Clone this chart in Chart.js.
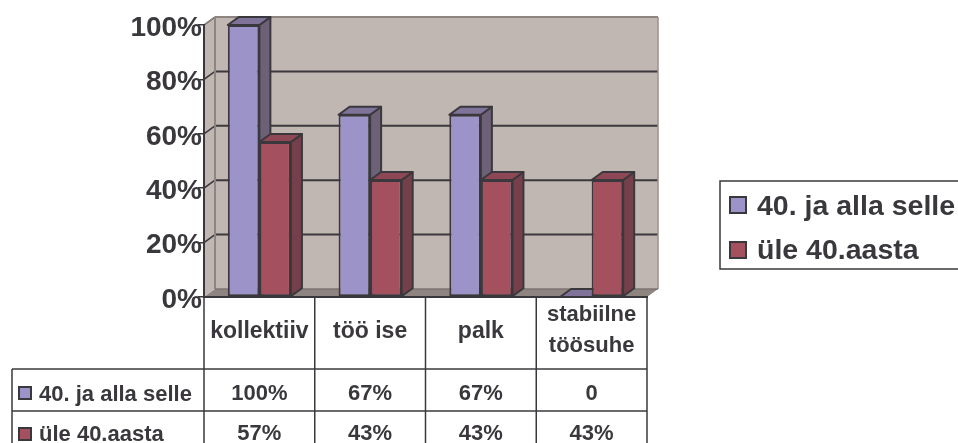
<!DOCTYPE html>
<html>
<head>
<meta charset="utf-8">
<style>
  html, body { margin: 0; padding: 0; background: #fff; overflow: hidden; }
  #wrap { position: relative; width: 958px; height: 443px; }
</style>
<script src="https://cdn.jsdelivr.net/npm/chart.js@4"></script>
</head>
<body>
<div id="wrap"><canvas id="chart"></canvas></div>
<script>
// Kategooriad ja seeriad
const categories = [['kollektiiv'], ['töö ise'], ['palk'], ['stabiilne', 'töösuhe']];
const seriesNames = ['40. ja alla selle', 'üle 40.aasta'];
const alla40 = [100, 67, 67, 0];
const yle40 = [57, 43, 43, 43];
const yTicks = [0, 20, 40, 60, 80, 100];

const INK = '#3a383c';
const FONT = 'Liberation Sans, Arial, sans-serif';
const colors = [
    { front: '#9c94c8', top: '#7f7399', side: '#6c6177' },
    { front: '#a5505f', top: '#8e4855', side: '#75404b' }
];
// Kolmemõõtmelise sügavuse nihe
const DX = 11, DY = 8;

function poly(ctx, pts, fill, stroke, lw) {
    ctx.beginPath();
    pts.forEach((p, i) => i ? ctx.lineTo(p[0], p[1]) : ctx.moveTo(p[0], p[1]));
    ctx.closePath();
    if (fill) { ctx.fillStyle = fill; ctx.fill(); }
    if (stroke) { ctx.strokeStyle = stroke; ctx.lineWidth = lw; ctx.stroke(); }
}

function line(ctx, x1, y1, x2, y2, color, lw) {
    ctx.beginPath();
    ctx.moveTo(x1, y1);
    ctx.lineTo(x2, y2);
    ctx.strokeStyle = color;
    ctx.lineWidth = lw;
    ctx.stroke();
}

function label(ctx, text, x, y, size, align) {
    ctx.font = 'bold ' + size + 'px ' + FONT;
    ctx.fillStyle = INK;
    ctx.textAlign = align || 'center';
    ctx.textBaseline = 'alphabetic';
    ctx.fillText(text, x, y);
}

function swatch(ctx, x, y, w, h, color) {
    ctx.fillStyle = color;
    ctx.fillRect(x, y, w, h);
    ctx.strokeStyle = INK;
    ctx.lineWidth = 2;
    ctx.strokeRect(x, y, w, h);
}

// Tagasein, külgsein, põrand ja abijooned
const wallsPlugin = {
    id: 'walls',
    beforeDraw(chart) {
        const { ctx, chartArea: a, scales } = chart;
        const y0 = scales.y.getPixelForValue(0);
        const y100 = scales.y.getPixelForValue(100);
        ctx.save();
        poly(ctx, [[a.left + DX, y100 - DY], [a.right + DX, y100 - DY], [a.right + DX, y0 - DY], [a.left + DX, y0 - DY]], '#c0b7b3');
        poly(ctx, [[a.left, y100], [a.left + DX, y100 - DY], [a.left + DX, y0 - DY], [a.left, y0]], '#c0b7b3');
        yTicks.forEach(v => {
            if (v === 0) return;
            const y = scales.y.getPixelForValue(v);
            if (v < 100) line(ctx, a.left + DX, y - DY, a.right + DX, y - DY, INK, 2);
            line(ctx, a.left, y, a.left + DX, y - DY, INK, 1.5);
        });
        poly(ctx, [[a.left, y0], [a.left + DX, y0 - DY], [a.right + DX, y0 - DY], [a.right, y0]], '#8e8480');
        line(ctx, a.left + DX, y100 - DY, a.right + DX, y100 - DY, '#8e8480', 2);
        line(ctx, a.left + DX, y100 - DY, a.left + DX, y0 - DY, '#8e8480', 2);
        line(ctx, a.right + DX, y100 - DY, a.right + DX, y0 - DY, '#9a908c', 1.5);
        line(ctx, a.left + DX, y0 - DY, a.right + DX, y0 - DY, '#7d7470', 1.5);
        line(ctx, a.left, y100, a.left + DX, y100 - DY, '#8e8480', 1.5);
        ctx.restore();
    }
};

// Tulpade ülemine ja külgmine tahk
const barDepthPlugin = {
    id: 'barDepth',
    beforeDatasetsDraw(chart) {
        const { ctx } = chart;
        ctx.save();
        ctx.lineJoin = 'round';
        chart.data.datasets.forEach((ds, d) => {
            chart.getDatasetMeta(d).data.forEach(bar => {
                const l = bar.x - bar.width / 2, r = bar.x + bar.width / 2;
                const t = bar.y, b = bar.base;
                poly(ctx, [[r, t], [r + DX, t - DY], [r + DX, b - DY], [r, b]], colors[d].side, INK, 2);
                poly(ctx, [[l, t], [l + DX, t - DY], [r + DX, t - DY], [r, t]], colors[d].top, INK, 2);
            });
        });
        ctx.restore();
    }
};

// Andmetabel telje all ja legend paremal
const tablePlugin = {
    id: 'dataTable',
    afterDraw(chart) {
        const { ctx, chartArea: a, scales } = chart;
        const tops = [a.bottom, 369, 411, 443];
        const step = (a.right - a.left) / categories.length;
        ctx.save();
        for (let i = 0; i <= categories.length; i++) {
            line(ctx, a.left + i * step, tops[0], a.left + i * step, tops[3], INK, 1.5);
        }
        line(ctx, 12, tops[1], a.right, tops[1], INK, 1.5);
        line(ctx, 12, tops[2], a.right, tops[2], INK, 1.5);
        line(ctx, 12, tops[1], 12, tops[3], INK, 1.5);

        categories.forEach((c, i) => {
            const cx = scales.x.getPixelForValue(i);
            if (c.length === 1) label(ctx, c[0], cx, 338, 23);
            else c.forEach((t, k) => label(ctx, t, cx, 321 + k * 31, 22));
        });
        chart.data.datasets.forEach((ds, d) => {
            const base = d === 0 ? 401 : 441;
            swatch(ctx, 19, d === 0 ? 387 : 428, 12, 12, colors[d].front);
            label(ctx, seriesNames[d], 39, base, 22, 'left');
            ds.data.forEach((v, i) => {
                label(ctx, v === 0 ? '0' : v + '%', scales.x.getPixelForValue(i), base - 1, 22);
            });
        });

        // Legend; parem serv jääb lõuendist välja
        ctx.strokeStyle = INK;
        ctx.lineWidth = 1.5;
        ctx.strokeRect(720, 181, 260, 88);
        seriesNames.forEach((name, d) => {
            swatch(ctx, 730, d === 0 ? 197 : 242, 16, 16, colors[d].front);
            label(ctx, name, 757, d === 0 ? 215 : 259, 28.5, 'left');
        });
        ctx.restore();
    }
};

document.addEventListener('DOMContentLoaded', () => {
    const ctx = document.getElementById('chart').getContext('2d');
    new Chart(ctx, {
        type: 'bar',
        data: {
            labels: categories,
            datasets: [alla40, yle40].map((values, d) => ({
                label: seriesNames[d],
                data: values,
                backgroundColor: colors[d].front,
                borderColor: INK,
                borderWidth: 2,
                borderSkipped: false
            }))
        },
        options: {
            responsive: true,
            maintainAspectRatio: false,
            animation: false,
            categoryPercentage: 0.57,
            barPercentage: 1,
            layout: { padding: { top: 25, right: 311, left: 0, bottom: 0 } },
            plugins: { legend: { display: false }, tooltip: { enabled: false } },
            scales: {
                x: {
                    ticks: { display: false },
                    grid: { display: false },
                    border: { color: INK, width: 2 },
                    afterFit(scale) { scale.height = 146; }
                },
                y: {
                    min: 0,
                    max: 100,
                    afterBuildTicks(scale) { scale.ticks = yTicks.map(v => ({ value: v })); },
                    afterFit(scale) { scale.width = 204; },
                    ticks: {
                        callback: v => v + '%',
                        color: INK,
                        padding: -4,
                        labelOffset: 3,
                        font: { family: FONT, weight: 'bold', size: 28 }
                    },
                    grid: { drawOnChartArea: false, color: INK, lineWidth: 1.5, tickLength: 6 },
                    border: { color: INK, width: 2 }
                }
            }
        },
        plugins: [wallsPlugin, barDepthPlugin, tablePlugin]
    });
});
</script>
</body>
</html>
